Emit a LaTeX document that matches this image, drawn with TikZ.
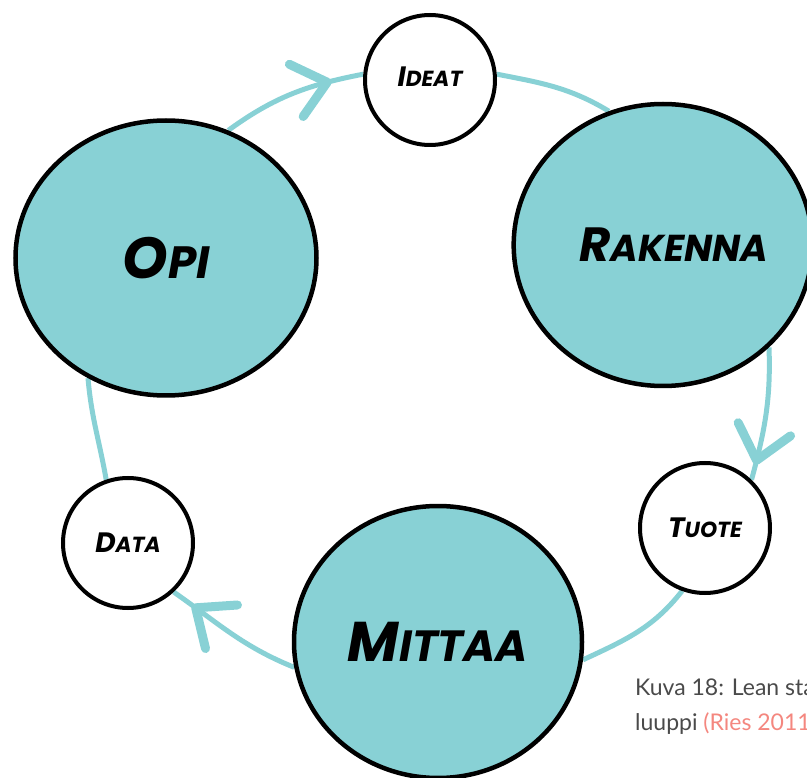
\documentclass[tikz,border=0pt]{standalone}
\usepackage{fontspec}
\newfontfamily\handfont{Poppins}
\newfontfamily\capfont{Lato}
\usetikzlibrary{shapes.geometric,decorations.markings,backgrounds}

\definecolor{loopteal}{HTML}{88D1D5}
\definecolor{capgray}{HTML}{4A4A4A}
\definecolor{refpink}{HTML}{F4877F}

% brush-style label: large initial, smaller capitals after it
\newcommand\handlabel[3]{{\handfont\fontsize{#1}{#1}\selectfont\bfseries\itshape #2\scalebox{0.78}{#3}}}

\tikzset{
  x=1pt, y=1pt,
  bigstage/.style={ellipse, draw=black, line width=4.5pt, fill=loopteal, inner sep=0pt},
  smallstage/.style={circle, draw=black, line width=4pt, fill=white, inner sep=0pt, minimum size=130pt},
  cyclearc/.style={draw=loopteal, line width=5pt},
  chev/.style={draw=loopteal, line width=9pt, line cap=round, line join=round},
  arrowmark/.style={postaction={decorate}, decoration={markings,
      mark=at position #1 with {\draw[chev] (-32,27) -- (0,0) -- (-32,-27);}}},
  captext/.style={anchor=base west, font=\capfont\fontsize{23}{23}\selectfont, text=capgray, inner sep=0pt}
}

\begin{document}
\begin{tikzpicture}
\useasboundingbox (0,0) rectangle (807,-778);

% stages of the loop
\node[bigstage, minimum width=301pt, minimum height=275pt] (opi) at (166,-258) {\handlabel{58}{O}{PI}};
\node[bigstage, minimum width=288pt, minimum height=282pt] (rakenna) at (663,-245) {\hspace*{22pt}\handlabel{48}{R}{AKENNA}};
\node[bigstage, minimum width=288pt, minimum height=272pt] (mittaa) at (438,-642) {\handlabel{56}{M}{ITTAA}};

\node[smallstage] (ideat) at (430,-80) {\raisebox{7pt}{\handlabel{28}{I}{DEAT}}};
\node[smallstage] (tuote) at (705,-528) {\handlabel{28}{T}{UOTE}};
\node[smallstage] (data) at (128,-543) {\handlabel{28}{D}{ATA}};

% connecting loop
\begin{scope}[on background layer]
  \draw[cyclearc, arrowmark=0.75] (opi.64) to[out=36, in=191] (ideat.175);
  \draw[cyclearc] (ideat.5) to[out=-11, in=149] (rakenna.112);
  \draw[cyclearc, arrowmark=0.85] (rakenna.-44) to[out=-88, in=75] (tuote.46);
  \draw[cyclearc] (tuote.-110) to[out=232, in=25] (mittaa.-7);
  \draw[cyclearc, arrowmark=0.81] (mittaa.190) to[out=158, in=-35] (data.-47);
  \draw[cyclearc] (data.109) to[out=100, in=-85] (opi.237);
\end{scope}

% caption
\node[captext] (cap1) at (635,-695) {Kuva 18: Lean sta};
\node[captext] (cap2) at (635,-730) {luuppi \textcolor{refpink}{(Ries 2011}};
\end{tikzpicture}
\end{document}
